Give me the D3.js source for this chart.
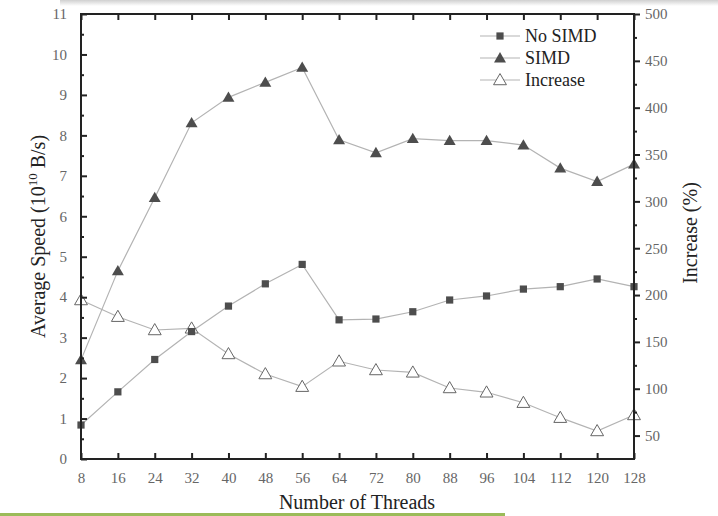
<!DOCTYPE html>
<html>
<head>
<meta charset="utf-8">
<script src="https://cdn.jsdelivr.net/npm/d3@7"></script>
<style>
  body { margin: 0; background: #fff; }
  svg, svg text { font-family: "Liberation Serif", "Times New Roman", serif; }
</style>
</head>
<body>
<div id="chart"></div>
<script>
// values
const threads  = [8, 16, 24, 32, 40, 48, 56, 64, 72, 80, 88, 96, 104, 112, 120, 128];
const noSimd   = [0.84, 1.66, 2.46, 3.15, 3.78, 4.33, 4.81, 3.44, 3.46, 3.64, 3.93, 4.03, 4.20, 4.26, 4.45, 4.26];
const simd     = [2.45, 4.65, 6.46, 8.31, 8.94, 9.31, 9.68, 7.89, 7.57, 7.92, 7.87, 7.87, 7.76, 7.19, 6.86, 7.29];
const increase = [194.7, 176.9, 162.7, 164.5, 137.1, 115.7, 102.2, 129.3, 120, 117.5, 100.8, 96.2, 85.1, 69.1, 54.9, 72];
const leftTicks  = d3.range(0, 12, 1);
const rightTicks = d3.range(50, 501, 50);
const legendNames = ['No SIMD', 'SIMD', 'Increase'];

const width = 718, height = 516;
const margin = {top: 14, right: 84, bottom: 57, left: 81};
const serif = '"Liberation Serif", "Times New Roman", serif';

const svg = d3.select('#chart').append('svg')
    .attr('width', width)
    .attr('height', height)
    .attr('font-family', serif);

// top shadow strip and green rule at the bottom
const grad = svg.append('defs').append('linearGradient')
    .attr('id', 'shade').attr('x1', 0).attr('x2', 0).attr('y1', 0).attr('y2', 1);
grad.append('stop').attr('offset', '0%').attr('stop-color', '#d0d0d0');
grad.append('stop').attr('offset', '100%').attr('stop-color', '#ffffff');
svg.append('rect').attr('x', 60).attr('y', 0).attr('width', width - 60).attr('height', 6)
    .attr('fill', 'url(#shade)');
svg.append('rect').attr('x', 0).attr('y', 513).attr('width', 505).attr('height', 3)
    .attr('fill', '#9bbb59');

const x = d3.scaleLinear()
    .domain([8, 128])
    .range([margin.left, width - margin.right]);

const yL = d3.scaleLinear()
    .domain([0, 11])
    .range([height - margin.bottom, margin.top]);

const yR = d3.scaleLinear()
    .domain([25, 500])
    .range([height - margin.bottom, margin.top]);

const lineColor = '#b3b3b3';
const markColor = '#4d4d4d';

function drawSeries(values, yScale) {
  const line = d3.line()
    .x((d, i) => x(threads[i]))
    .y(d => yScale(d));
  svg.append('path')
    .datum(values)
    .attr('d', line)
    .attr('fill', 'none')
    .attr('stroke', lineColor)
    .attr('stroke-width', 1.2);
}

drawSeries(increase, yR);
drawSeries(noSimd, yL);
drawSeries(simd, yL);

const sq = d3.symbol().type(d3.symbolSquare).size(52);
const tri = d3.symbol().type(d3.symbolTriangle).size(62);
const triOpen = d3.symbol().type(d3.symbolTriangle).size(72);

svg.selectAll('.inc')
  .data(increase)
  .join('path')
    .attr('class', 'inc')
    .attr('transform', (d, i) => `translate(${x(threads[i])},${yR(d) + 1})`)
    .attr('d', triOpen)
    .attr('fill', '#fff')
    .attr('stroke', '#666')
    .attr('stroke-width', 1);

svg.selectAll('.nos')
  .data(noSimd)
  .join('path')
    .attr('class', 'nos')
    .attr('transform', (d, i) => `translate(${x(threads[i])},${yL(d)})`)
    .attr('d', sq)
    .attr('fill', markColor);

svg.selectAll('.sim')
  .data(simd)
  .join('path')
    .attr('class', 'sim')
    .attr('transform', (d, i) => `translate(${x(threads[i])},${yL(d) + 1})`)
    .attr('d', tri)
    .attr('fill', markColor);

// axes
const axisColor = '#222';
const labelColor = '#666';

function styleAxis(g) {
  g.attr('font-family', serif).attr('font-size', 15);
  g.select('.domain').remove();
  g.selectAll('.tick line').attr('stroke', axisColor).attr('stroke-width', 2);
  g.selectAll('.tick text').attr('fill', labelColor);
}

// minor ticks
svg.append('g')
    .attr('transform', `translate(${margin.left},0)`)
    .call(d3.axisLeft(yL).tickValues(d3.range(0.5, 11, 1)).tickSize(-3).tickFormat(''))
    .call(styleAxis);
svg.append('g')
    .attr('transform', `translate(${width - margin.right},0)`)
    .call(d3.axisRight(yR).tickValues(d3.range(75, 500, 50)).tickSize(3).tickFormat(''))
    .call(styleAxis);

svg.append('g')
    .attr('transform', `translate(${margin.left},0)`)
    .call(d3.axisLeft(yL).tickValues(leftTicks).tickSize(-6).tickPadding(14))
    .call(styleAxis);

svg.append('g')
    .attr('transform', `translate(${width - margin.right},0)`)
    .call(d3.axisRight(yR).tickValues(rightTicks).tickSize(6).tickPadding(5))
    .call(styleAxis);

svg.append('g')
    .attr('transform', `translate(0,${height - margin.bottom})`)
    .call(d3.axisBottom(x).tickValues(threads).tickSize(-6).tickPadding(13))
    .call(styleAxis);

svg.append('g')
    .attr('transform', `translate(0,${margin.top})`)
    .call(d3.axisTop(x).tickValues(threads).tickSize(-6).tickFormat(''))
    .call(styleAxis);

// frame
svg.append('rect')
    .attr('x', margin.left)
    .attr('y', margin.top)
    .attr('width', width - margin.right - margin.left)
    .attr('height', height - margin.bottom - margin.top)
    .attr('fill', 'none')
    .attr('stroke', axisColor)
    .attr('stroke-width', 2);

// titles
svg.append('text')
    .attr('transform', `translate(45,${(margin.top + height - margin.bottom) / 2}) rotate(-90)`)
    .attr('text-anchor', 'middle')
    .attr('fill', '#222')
    .attr('font-size', 20)
    .call(t => {
      t.append('tspan').text('Average Speed (10');
      t.append('tspan').text('10').attr('dy', -8).attr('font-size', 13);
      t.append('tspan').text(' B/s)').attr('dy', 8);
    });

svg.append('text')
    .attr('transform', `translate(697,233) rotate(-90)`)
    .attr('text-anchor', 'middle')
    .attr('fill', '#222')
    .attr('font-size', 20)
    .text('Increase (%)');

svg.append('text')
    .attr('x', 357)
    .attr('y', 509)
    .attr('text-anchor', 'middle')
    .attr('fill', '#222')
    .attr('font-size', 20)
    .text('Number of Threads');

// legend
const legend = svg.append('g').attr('transform', 'translate(480,36)');
const legendMarks = [
  {d: sq, fill: markColor, stroke: 'none'},
  {d: tri, fill: markColor, stroke: 'none'},
  {d: triOpen, fill: '#fff', stroke: '#666'}
];
legendNames.forEach((name, i) => {
  const row = legend.append('g').attr('transform', `translate(0,${i * 22})`);
  row.append('line').attr('x1', 0).attr('x2', 40).attr('y1', 0).attr('y2', 0)
    .attr('stroke', lineColor).attr('stroke-width', 1.2);
  row.append('path').attr('transform', `translate(20,${i ? 1 : 0})`)
    .attr('d', legendMarks[i].d)
    .attr('fill', legendMarks[i].fill)
    .attr('stroke', legendMarks[i].stroke);
  row.append('text').attr('x', 45).attr('y', 6)
    .attr('fill', '#222')
    .attr('font-size', 18)
    .text(name);
});
</script>
</body>
</html>
